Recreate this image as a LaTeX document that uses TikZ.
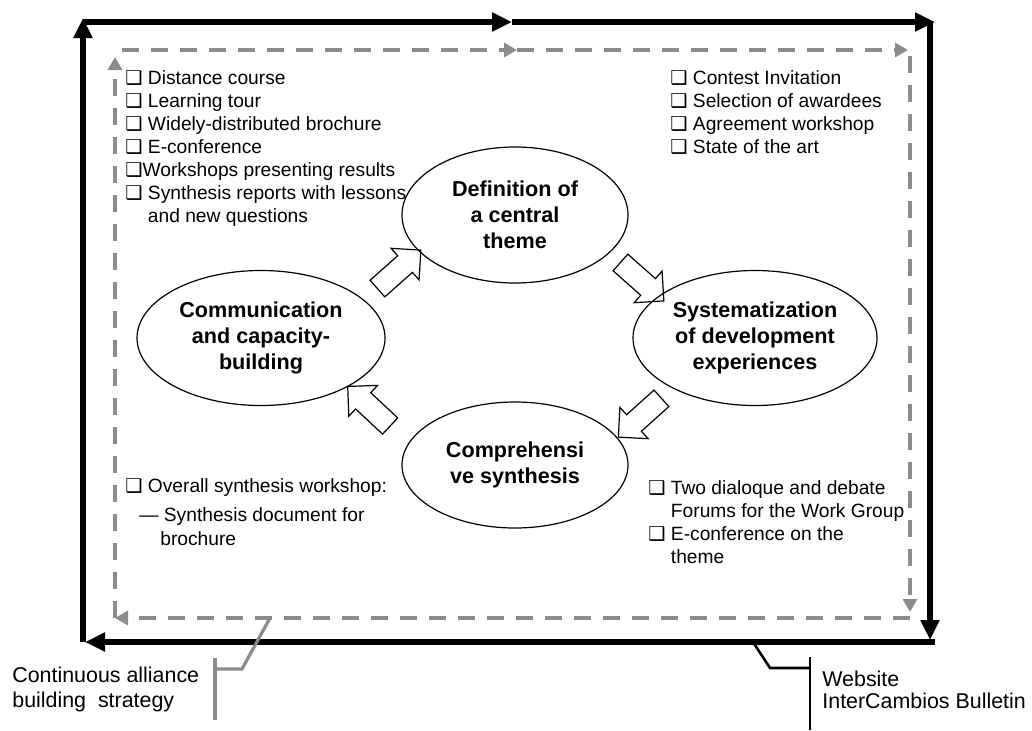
\documentclass[tikz,border=0pt]{standalone}
\usepackage{fontspec}
\setmainfont{Liberation Sans}
\newfontfamily\symfont{DejaVu Sans}
\usetikzlibrary{arrows.meta,shapes.geometric,shapes.arrows}
\newcommand{\cb}{{\symfont\char"2751}}

\begin{document}
\begin{tikzpicture}[x=0.5pt, y=-0.5pt,
        frame/.style={line width=2.8pt, black},
        blacktip/.style={-{Triangle[length=10pt,width=9pt]}},
        loop/.style={line width=2.2pt, black!45, dash pattern=on 8.5pt off 6pt},
        graytip/.style={-{Triangle[length=6.5pt,width=7pt]}},
        phase/.style={ellipse, draw, line width=0.6pt, align=center, inner sep=0pt,
            font=\fontsize{10.8}{13}\selectfont\bfseries},
        turn/.style={single arrow, draw, line width=0.6pt, inner xsep=0pt, inner ysep=5.25pt,
            single arrow head extend=5pt, minimum height=29pt},
        item/.style={anchor=base west, inner sep=0pt, font=\fontsize{9.6}{11.5}\selectfont},
        tag/.style={anchor=base west, inner sep=0pt, font=\fontsize{10.7}{12}\selectfont}]
    \useasboundingbox (0,0) rectangle (1032,730);
    % outer frame
    \coordinate (fbl) at (83,642);
    \coordinate (ftl) at (83,18);
    \coordinate (ftm) at (512,22);
    \coordinate (ftr) at (935,22);
    \coordinate (fr) at (930,22);
    \coordinate (frb) at (930,640);
    \coordinate (fbr) at (935,642);
    \coordinate (fbe) at (85,642);
    \draw 
        [frame, blacktip] (fbl)--(ftl);
    \draw 
        [frame, blacktip] (83,22)--(ftm);
    \draw 
        [frame, blacktip] (ftm)--(ftr);
    \draw 
        [frame, blacktip] (fr)--(frb);
    \draw 
        [frame, blacktip] (fbr)--(fbe);
    % inner dashed loop
    \coordinate (gbl) at (115,618);
    \coordinate (gtl) at (115,57);
    \coordinate (gts) at (122,50);
    \coordinate (gtm) at (517,50);
    \coordinate (gtr) at (908,50);
    \coordinate (gr) at (910,56);
    \coordinate (grb) at (910,612);
    \coordinate (gbr) at (910,618);
    \draw 
        [loop, graytip] (gbl)--(gtl);
    \draw 
        [loop, graytip] (gts)--(gtm);
    \draw 
        [loop, graytip] (gtm)--(gtr);
    \draw 
        [loop, graytip] (gr)--(grb);
    \draw 
        [loop, graytip] (gbr)--(gbl);
    % four phases
    \node[phase, minimum width=113pt, minimum height=68pt] (def) at (515,215) {Definition of\\a central\\theme};
    \node[phase, minimum width=124pt, minimum height=67.5pt] (comm) at (261,338) {Communication\\and capacity-\\building};
    \node[phase, minimum width=122pt, minimum height=67.5pt] (sys) at (755,338) {Systematization\\of development\\experiences};
    \node[phase, minimum width=113pt, minimum height=63pt] (comp) at (515,465) {Comprehensi\\ve synthesis};
    \node[turn, rotate=41.5] (commdef) at (395,273) {};
    \node[turn, rotate=-41.5] (defsys) at (638,278) {};
    \node[turn, rotate=222] (syscomp) at (644,414) {};
    \node[turn, rotate=137] (compcomm) at (373,410) {};
    % activity lists
    \foreach \t [count=\i] in {\cb\ Distance course, \cb\ Learning tour, \cb\ Widely-distributed brochure,
            \cb\ E-conference, \cb Workshops presenting results, \cb\ Synthesis reports with lessons,
            \phantom{\cb\ }and new questions}
        \node[item] (comml\i) at (125,61+23*\i) {\t};
    \foreach \t [count=\i] in {\cb\ Contest Invitation, \cb\ Selection of awardees,
            \cb\ Agreement workshop, \cb\ State of the art}
        \node[item] (defl\i) at (670,61+23*\i) {\t};
    \foreach \t [count=\i] in {\cb\ Two dialoque and debate, \phantom{\cb\ }Forums for the Work Group,
            \cb\ E-conference on the, \phantom{\cb\ }theme}
        \node[item] (sysl\i) at (648,471+23*\i) {\t};
    \node[item] (compl1) at (125,492) {\cb\ Overall synthesis workshop:};
    \node[item] (compl2) at (139,521) {\textemdash\ Synthesis document for};
    \node[item] (compl3) at (160,545) {brochure};
    % callouts
    \coordinate (ga) at (270,618);
    \coordinate (gb) at (242,669);
    \coordinate (gc) at (215,669);
    \coordinate (gu) at (215,658);
    \coordinate (gd) at (215,720);
    \draw 
        [line width=1.6pt, black!45] (ga)--(gb)--(gc);
    \draw 
        [line width=1.6pt, black!45] (gu)--(gd);
    \node[tag] (alliance) at (12,682) {Continuous alliance};
    \node[tag] (strategy) at (12,707) {building\ \ strategy};
    \coordinate (ba) at (753,642);
    \coordinate (bb) at (770,668);
    \coordinate (bc) at (810,668);
    \coordinate (bu) at (810,657);
    \coordinate (bd) at (810,730);
    \draw 
        [line width=1.3pt, black] (ba)--(bb)--(bc);
    \draw 
        [line width=1.3pt, black] (bu)--(bd);
    \node[tag] (website) at (822,686) {Website};
    \node[tag] (bulletin) at (822,708) {InterCambios Bulletin};
\end{tikzpicture}
\end{document}
